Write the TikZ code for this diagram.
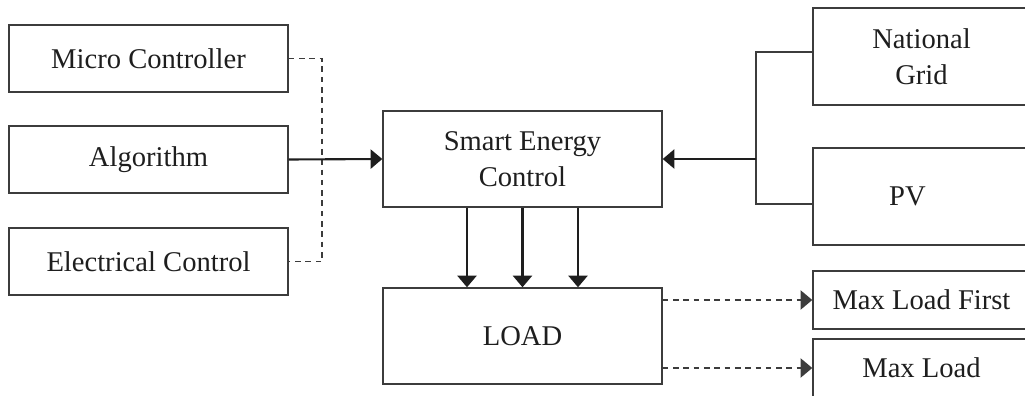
\documentclass[tikz,border=0pt]{standalone}
\usepackage{fontspec}
\setmainfont{Liberation Serif}
\usetikzlibrary{arrows.meta,positioning,calc}
\definecolor{boxline}{RGB}{60,60,60}
\definecolor{txt}{RGB}{30,30,30}

\begin{document}
\begin{tikzpicture}[x=0.015cm,y=-0.015cm,>={Triangle[length=5pt,width=8.2pt]},font=\fontsize{12.2}{15.2}\selectfont]
\tikzstyle{blk}=[draw=boxline,line width=.6pt,text=txt,align=center,inner sep=0pt,minimum width=4.185cm]
\tikzstyle{src}=[blk,minimum width=3.255cm]
\tikzstyle{lnk}=[draw=txt,line width=.9pt]
\tikzstyle{dsh}=[draw=boxline,line width=.7pt,dash pattern=on 2.4pt off 2pt]
\useasboundingbox (0,0) rectangle (1025,396);
\clip (0,0) rectangle (1025,396);
% left column
\node[blk,minimum height=1.005cm] (mc) at (148.5,58.5) {Micro Controller};
\node[blk,minimum height=1.005cm] (alg) at (148.5,159.5) {Algorithm};
\node[blk,minimum height=1.005cm] (ec) at (148.5,261.5) {Electrical Control};
% middle
\node[blk,minimum height=1.44cm] (sec) at (522.5,159) {Smart Energy\\Control};
\node[blk,minimum height=1.44cm] (load) at (522.5,336) {LOAD};
% right column
\node[src,minimum height=1.455cm] (ng) at (921.5,56.5) {National\\Grid};
\node[src,minimum height=1.455cm] (pv) at (921.5,196.5) {\hspace*{-12pt}PV};
\node[src,minimum height=.87cm] (mlf) at (921.5,300) {Max Load First};
\node[src,minimum height=.87cm] (ml) at (921.5,368) {Max Load};
\coordinate (bus) at (322,159);
\coordinate (jn) at (756,159);
\draw[dsh] (mc.east) -| (bus) |- (ec.east);
\draw[lnk,->] (alg.east) -- (sec.west);
\draw[draw=boxline,line width=.5pt] ([yshift=1.9pt]ng.west) -| (jn) |- ([yshift=-3.2pt]pv.west);
\draw[lnk,->] (jn) -- (sec.east);
\foreach \dx in {-55.5,0,55.5}
  \draw[lnk,->] ($(sec.south)+(\dx,0)$) -- ($(load.north)+(\dx,0)$);
\draw[dsh,->] (load.east |- mlf.west) -- (mlf.west);
\draw[dsh,->] (load.east |- ml.west) -- (ml.west);
\end{tikzpicture}
\end{document}
